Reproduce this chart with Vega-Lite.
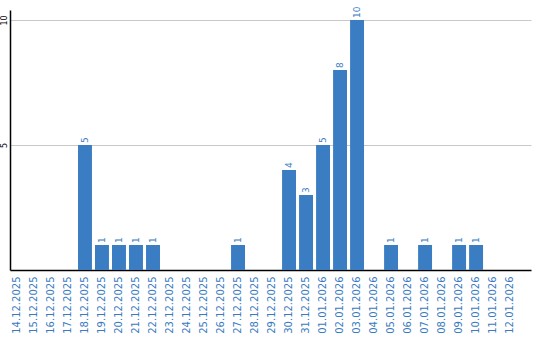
{
  "$schema": "https://vega.github.io/schema/vega-lite/v6.json",
  "autosize": {"type": "none"},
  "padding": {"left": 10, "top": 10, "right": 9, "bottom": 70},
  "width": 521,
  "height": 260,
  "background": "white",
  "config": {"view": {"stroke": null}, "font": "DejaVu Sans"},
  "data": {"values": [
    {"d": "14.12.2025", "v": 0},
    {"d": "15.12.2025", "v": 0},
    {"d": "16.12.2025", "v": 0},
    {"d": "17.12.2025", "v": 0},
    {"d": "18.12.2025", "v": 5},
    {"d": "19.12.2025", "v": 1},
    {"d": "20.12.2025", "v": 1},
    {"d": "21.12.2025", "v": 1},
    {"d": "22.12.2025", "v": 1},
    {"d": "23.12.2025", "v": 0},
    {"d": "24.12.2025", "v": 0},
    {"d": "25.12.2025", "v": 0},
    {"d": "26.12.2025", "v": 0},
    {"d": "27.12.2025", "v": 1},
    {"d": "28.12.2025", "v": 0},
    {"d": "29.12.2025", "v": 0},
    {"d": "30.12.2025", "v": 4},
    {"d": "31.12.2025", "v": 3},
    {"d": "01.01.2026", "v": 5},
    {"d": "02.01.2026", "v": 8},
    {"d": "03.01.2026", "v": 10},
    {"d": "04.01.2026", "v": 0},
    {"d": "05.01.2026", "v": 1},
    {"d": "06.01.2026", "v": 0},
    {"d": "07.01.2026", "v": 1},
    {"d": "08.01.2026", "v": 0},
    {"d": "09.01.2026", "v": 1},
    {"d": "10.01.2026", "v": 1},
    {"d": "11.01.2026", "v": 0},
    {"d": "12.01.2026", "v": 0}
  ]},
  "encoding": {
    "x": {
      "field": "d", "type": "nominal", "sort": null,
      "scale": {"paddingInner": 0.18, "paddingOuter": 0.41, "align": 0},
      "axis": {
        "title": null, "labelAngle": -90, "labelAlign": "right", "labelBaseline": "middle",
        "labelColor": "#3a7bbf", "labelFontSize": 10, "labelFont": "DejaVu Sans",
        "ticks": false, "labelPadding": 6, "domainColor": "#000000", "domainWidth": 1.5,
        "grid": false
      }
    },
    "y": {
      "field": "v", "type": "quantitative",
      "scale": {"domain": [0, 10.4], "nice": false},
      "axis": {
        "title": null, "values": [5, 10], "labelAngle": -90, "labelAlign": "center",
        "labelBaseline": "bottom", "labelFontSize": 8, "labelColor": "#000000",
        "labelPadding": 2, "ticks": false, "domainColor": "#000000", "domainWidth": 1.5,
        "grid": true, "gridColor": "#c8c8c8", "gridWidth": 1
      }
    }
  },
  "layer": [
    {"mark": {"type": "bar", "color": "#3b7dc2"}},
    {
      "transform": [{"filter": "datum.v > 0"}],
      "mark": {"type": "text", "angle": -90, "align": "left", "baseline": "middle", "dx": 2, "fontSize": 9, "color": "#3b7dc2", "font": "DejaVu Sans"},
      "encoding": {"text": {"field": "v", "type": "quantitative"}}
    }
  ]
}
